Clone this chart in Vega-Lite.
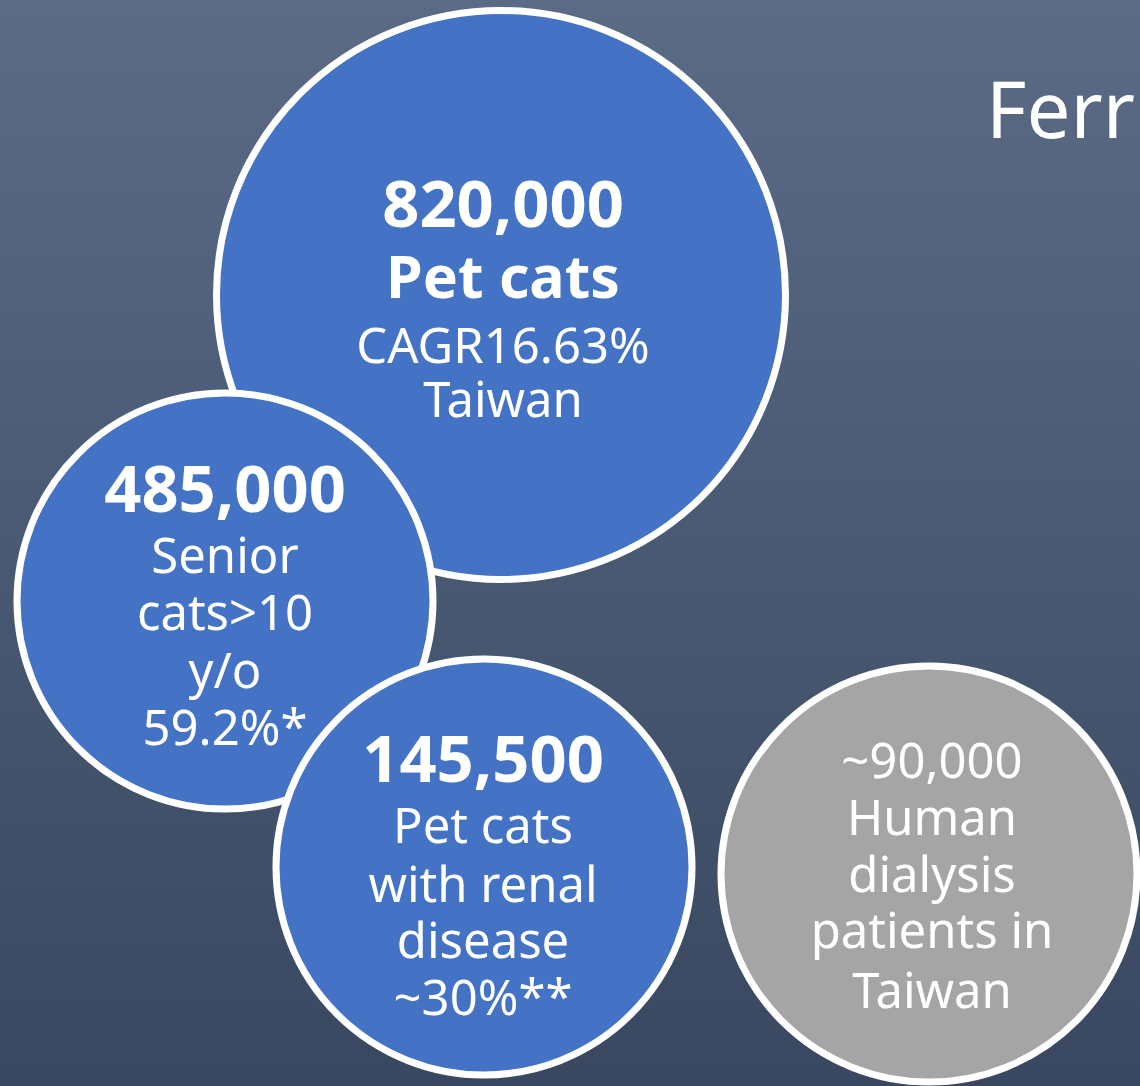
{
  "$schema": "https://vega.github.io/schema/vega-lite/v6.json",
  "width": 1140,
  "height": 1086,
  "padding": 0,
  "autosize": {"type": "none"},
  "background": "#4a5a73",
  "view": {"stroke": null},
  "config": {"font": "Noto Sans"},
  "datasets": {
    "circles": [
      {"id": "pet", "cx": 501, "cy": 295, "group": "large", "tone": "blue"},
      {"id": "senior", "cx": 225, "cy": 601, "group": "small", "tone": "blue"},
      {"id": "renal", "cx": 484, "cy": 867, "group": "small", "tone": "blue"},
      {"id": "human", "cx": 929, "cy": 874, "group": "small", "tone": "gray"}
    ],
    "lines": [
      {"text": "820,000", "tx": 503, "ty": 227, "kind": "number"},
      {"text": "Pet cats", "tx": 503, "ty": 298, "kind": "head"},
      {"text": "CAGR16.63%", "tx": 503, "ty": 363, "kind": "body"},
      {"text": "Taiwan", "tx": 503, "ty": 417, "kind": "body"},
      {"text": "485,000", "tx": 225, "ty": 512, "kind": "number"},
      {"text": "Senior", "tx": 225, "ty": 573, "kind": "body"},
      {"text": "cats>10", "tx": 225, "ty": 630, "kind": "body"},
      {"text": "y/o", "tx": 225, "ty": 688, "kind": "body"},
      {"text": "59.2%*", "tx": 225, "ty": 745, "kind": "body"},
      {"text": "145,500", "tx": 483, "ty": 782, "kind": "number"},
      {"text": "Pet cats", "tx": 483, "ty": 843, "kind": "body"},
      {"text": "with renal", "tx": 483, "ty": 902, "kind": "body"},
      {"text": "disease", "tx": 483, "ty": 958, "kind": "body"},
      {"text": "~30%**", "tx": 483, "ty": 1015, "kind": "body"},
      {"text": "~90,000", "tx": 932, "ty": 778, "kind": "body"},
      {"text": "Human", "tx": 932, "ty": 835, "kind": "body"},
      {"text": "dialysis", "tx": 932, "ty": 892, "kind": "body"},
      {"text": "patients in", "tx": 932, "ty": 948, "kind": "body"},
      {"text": "Taiwan", "tx": 932, "ty": 1008, "kind": "body"},
      {"text": "Ferr", "tx": 986, "ty": 138, "kind": "title"}
    ]
  },
  "encoding": {
    "x": {"type": "quantitative", "scale": {"domain": [0, 1140], "nice": false, "zero": false}, "axis": null},
    "y": {"type": "quantitative", "scale": {"domain": [0, 1086], "nice": false, "zero": false, "reverse": true}, "axis": null}
  },
  "layer": [
    {
      "data": {"values": [{"panel": "background"}]},
      "mark": {
        "type": "rect",
        "fill": {
          "gradient": "linear",
          "x1": 0, "y1": 0, "x2": 0, "y2": 1,
          "stops": [
            {"offset": 0, "color": "#5b6b86"},
            {"offset": 1, "color": "#394860"}
          ]
        }
      },
      "encoding": {
        "x": {"datum": 0, "type": "quantitative"},
        "x2": {"datum": 1140},
        "y": {"datum": 0, "type": "quantitative"},
        "y2": {"datum": 1086}
      }
    },
    {
      "data": {"name": "circles"},
      "mark": {"type": "point", "shape": "circle", "filled": true, "opacity": 1, "stroke": "#ffffff", "strokeWidth": 7},
      "encoding": {
        "x": {"field": "cx", "type": "quantitative"},
        "y": {"field": "cy", "type": "quantitative"},
        "size": {"field": "group", "type": "nominal", "scale": {"type": "ordinal", "domain": ["large", "small"], "range": [323761, 173056]}, "legend": null},
        "fill": {"field": "tone", "type": "nominal", "scale": {"domain": ["blue", "gray"], "range": ["#4472c4", "#a5a5a5"]}, "legend": null}
      }
    },
    {
      "data": {"name": "lines"},
      "transform": [{"filter": "datum.kind === 'number'"}],
      "mark": {"type": "text", "font": "Noto Sans", "fontWeight": "bold", "fontSize": 65, "color": "#ffffff", "align": "center", "baseline": "alphabetic"},
      "encoding": {
        "x": {"field": "tx", "type": "quantitative"},
        "y": {"field": "ty", "type": "quantitative"},
        "text": {"field": "text"}
      }
    },
    {
      "data": {"name": "lines"},
      "transform": [{"filter": "datum.kind === 'head'"}],
      "mark": {"type": "text", "font": "Noto Sans", "fontWeight": "bold", "fontSize": 59, "color": "#ffffff", "align": "center", "baseline": "alphabetic"},
      "encoding": {
        "x": {"field": "tx", "type": "quantitative"},
        "y": {"field": "ty", "type": "quantitative"},
        "text": {"field": "text"}
      }
    },
    {
      "data": {"name": "lines"},
      "transform": [{"filter": "datum.kind === 'body'"}],
      "mark": {"type": "text", "font": "Noto Sans", "fontWeight": "normal", "fontSize": 49, "color": "#ffffff", "align": "center", "baseline": "alphabetic"},
      "encoding": {
        "x": {"field": "tx", "type": "quantitative"},
        "y": {"field": "ty", "type": "quantitative"},
        "text": {"field": "text"}
      }
    },
    {
      "data": {"name": "lines"},
      "transform": [{"filter": "datum.kind === 'title'"}],
      "mark": {"type": "text", "font": "Noto Sans", "fontWeight": "normal", "fontSize": 78, "color": "#ffffff", "align": "left", "baseline": "alphabetic"},
      "encoding": {
        "x": {"field": "tx", "type": "quantitative"},
        "y": {"field": "ty", "type": "quantitative"},
        "text": {"field": "text"}
      }
    }
  ]
}
